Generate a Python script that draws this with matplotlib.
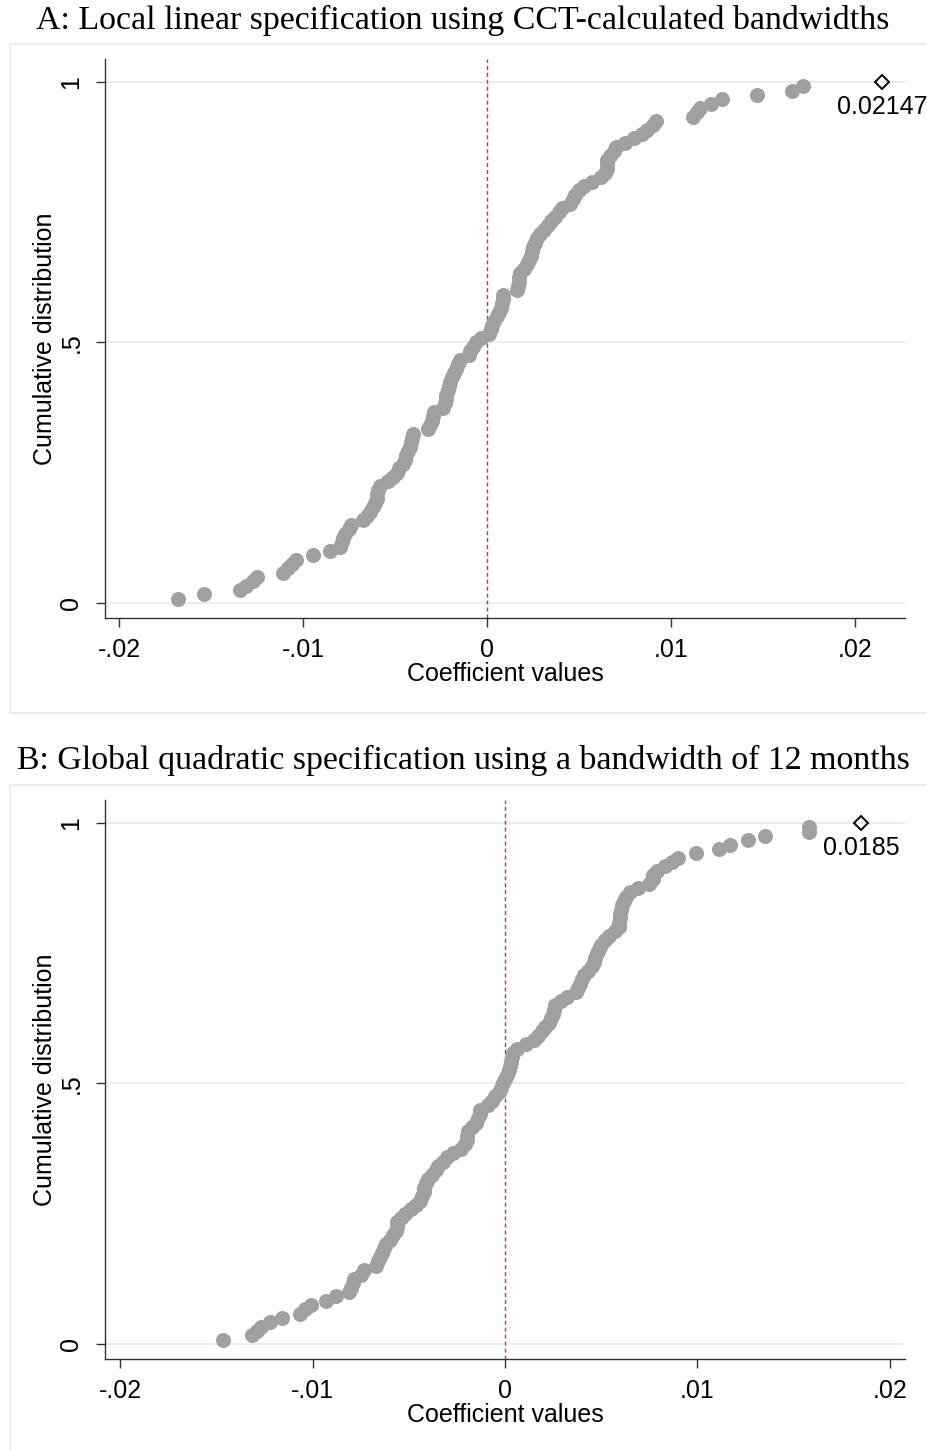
import matplotlib
matplotlib.use("Agg")
import matplotlib.pyplot as plt
import numpy as np
from matplotlib.patches import Rectangle

# placebo coefficients, panel A (local linear, CCT bandwidths)
coef_a = [
    -0.01678, -0.01538, -0.01342, -0.01310, -0.01270, -0.01252, -0.01107, -0.01080,
    -0.01060, -0.01040, -0.00944, -0.00853, -0.00799, -0.00790, -0.00780, -0.00770,
    -0.00750, -0.00740, -0.00672, -0.00650, -0.00636, -0.00620, -0.00610, -0.00600,
    -0.00598, -0.00590, -0.00580, -0.00540, -0.00510, -0.00490, -0.00480, -0.00455,
    -0.00445, -0.00440, -0.00430, -0.00420, -0.00415, -0.00410, -0.00401, -0.00320,
    -0.00310, -0.00300, -0.00295, -0.00290, -0.00240, -0.00230, -0.00225, -0.00220,
    -0.00210, -0.00205, -0.00200, -0.00190, -0.00180, -0.00170, -0.00160, -0.00147,
    -0.00100, -0.00090, -0.00074, -0.00060, -0.00030, 0.00010, 0.00020, 0.00030,
    0.00040, 0.00055, 0.00065, 0.00078, 0.00082, 0.00085, 0.00089, 0.00165,
    0.00170, 0.00173, 0.00176, 0.00180, 0.00200, 0.00220, 0.00230, 0.00240,
    0.00245, 0.00250, 0.00260, 0.00270, 0.00290, 0.00310, 0.00330, 0.00350,
    0.00370, 0.00390, 0.00410, 0.00450, 0.00470, 0.00480, 0.00500, 0.00530,
    0.00570, 0.00620, 0.00640, 0.00650, 0.00650, 0.00655, 0.00670, 0.00690,
    0.00700, 0.00750, 0.00800, 0.00840, 0.00870, 0.00900, 0.00920, 0.01120,
    0.01140, 0.01160, 0.01220, 0.01280, 0.01470, 0.01660, 0.01720,
]

# placebo coefficients, panel B (global quadratic, 12 months)
coef_b = [
    -0.01467, -0.01316, -0.01290, -0.01270, -0.01220, -0.01160, -0.01065, -0.01040,
    -0.01010, -0.00930, -0.00880, -0.00810, -0.00800, -0.00790, -0.00785, -0.00750,
    -0.00730, -0.00670, -0.00660, -0.00650, -0.00640, -0.00630, -0.00620, -0.00600,
    -0.00580, -0.00565, -0.00563, -0.00560, -0.00540, -0.00520, -0.00490, -0.00460,
    -0.00440, -0.00430, -0.00420, -0.00420, -0.00410, -0.00400, -0.00380, -0.00360,
    -0.00350, -0.00320, -0.00300, -0.00270, -0.00230, -0.00210, -0.00200, -0.00200,
    -0.00190, -0.00170, -0.00150, -0.00140, -0.00130, -0.00130, -0.00090, -0.00070,
    -0.00050, -0.00030, -0.00020, -0.00010, 0.00000, 0.00010, 0.00020, 0.00025,
    0.00030, 0.00035, 0.00040, 0.00060, 0.00110, 0.00150, 0.00170, 0.00190,
    0.00210, 0.00230, 0.00240, 0.00250, 0.00255, 0.00260, 0.00290, 0.00320,
    0.00370, 0.00380, 0.00390, 0.00400, 0.00410, 0.00430, 0.00450, 0.00460,
    0.00470, 0.00480, 0.00490, 0.00500, 0.00520, 0.00540, 0.00570, 0.00590,
    0.00590, 0.00595, 0.00600, 0.00603, 0.00610, 0.00620, 0.00630, 0.00650,
    0.00690, 0.00750, 0.00770, 0.00770, 0.00790, 0.00830, 0.00870, 0.00900,
    0.00990, 0.01110, 0.01170, 0.01260, 0.01350, 0.01580, 0.01580,
]

# actual estimates
est_a = 0.02147
est_b = 0.0185
est_label_a = "0.02147"
est_label_b = "0.0185"

title_a = "A: Local linear specification using CCT-calculated bandwidths"
title_b = "B: Global quadratic specification using a bandwidth of 12 months"

xticks = [-0.02, -0.01, 0, 0.01, 0.02]
xtick_labels = ["-.02", "-.01", "0", ".01", ".02"]
yticks = [0, 0.5, 1]
ytick_labels = ["0", ".5", "1"]

sans = "Liberation Sans"
serif = "Liberation Serif"
dot_col = "#a0a0a0"
grid_col = "#e6eef0"
frame_col = "#e3ebed"
line_col = "#cc2e58"

W, H = 927, 1450
fig = plt.figure(figsize=(W / 100, H / 100), dpi=100)


def px(x0, y0, x1, y1):
    # pixel box (top-left origin) -> figure fraction rect
    return [x0 / W, 1 - y1 / H, (x1 - x0) / W, (y1 - y0) / H]


def panel(rect, frame, title, title_y, coef, est, est_label, xlim):
    fig.add_artist(Rectangle((frame[0] / W, 1 - frame[3] / H),
                             (frame[2] - frame[0]) / W, (frame[3] - frame[1]) / H,
                             transform=fig.transFigure, fill=False,
                             edgecolor=frame_col, lw=1.2))
    fig.text(463 / W, 1 - title_y / H, title, family=serif, fontsize=24.4,
             ha="center", va="center")

    ax = fig.add_axes(px(*rect))
    x = np.sort(np.asarray(coef))
    n = len(x) + 1  # actual estimate counts as the top rank
    y = np.arange(1, len(x) + 1) / n

    for yy in yticks:
        ax.axhline(yy, color=grid_col, lw=1.4, zorder=0)
    ax.axvline(0, color=line_col, lw=1.0, ls=(0, (2.9, 2.1)), zorder=1)
    ax.plot(x, y, "o", ms=10.8, color=dot_col, mec="none", zorder=3)
    ax.plot([est], [1], "D", ms=7, mfc="none", mec="black", mew=1.4,
            zorder=4, clip_on=False)
    ax.annotate(est_label, (est, 1), xytext=(0, -18), textcoords="offset points",
                ha="center", va="center", family=sans, fontsize=18,
                annotation_clip=False)

    ax.set_xlim(*xlim)
    ax.set_ylim(-0.0288, 1.044)
    ax.set_xticks(xticks)
    ax.set_xticklabels(xtick_labels, family=sans, fontsize=18)
    ax.set_yticks(yticks)
    ax.set_yticklabels(ytick_labels, family=sans, fontsize=18, rotation=90,
                       va="center")
    ax.tick_params(length=6.5, width=1.0, color="#333333", pad=8)
    ax.tick_params(axis="y", pad=9)
    for s in ["top", "right"]:
        ax.spines[s].set_visible(False)
    for s in ["left", "bottom"]:
        ax.spines[s].set_color("#333333")
        ax.spines[s].set_linewidth(1.0)
    ax.set_xlabel("Coefficient values", family=sans, fontsize=18, labelpad=0)
    ax.set_ylabel("Cumulative distribution", family=sans, fontsize=18, labelpad=2)
    ax.patch.set_alpha(0)
    return ax


panel((105, 59, 905, 618), (10, 44, 960, 713), title_a, 20,
      coef_a, est_a, est_label_a, (-0.02076, 0.02272))
panel((105, 800, 905, 1359), (10, 785, 960, 1500), title_b, 760,
      coef_b, est_b, est_label_b, (-0.02078, 0.02078))

fig.savefig("out.png", dpi=100)
